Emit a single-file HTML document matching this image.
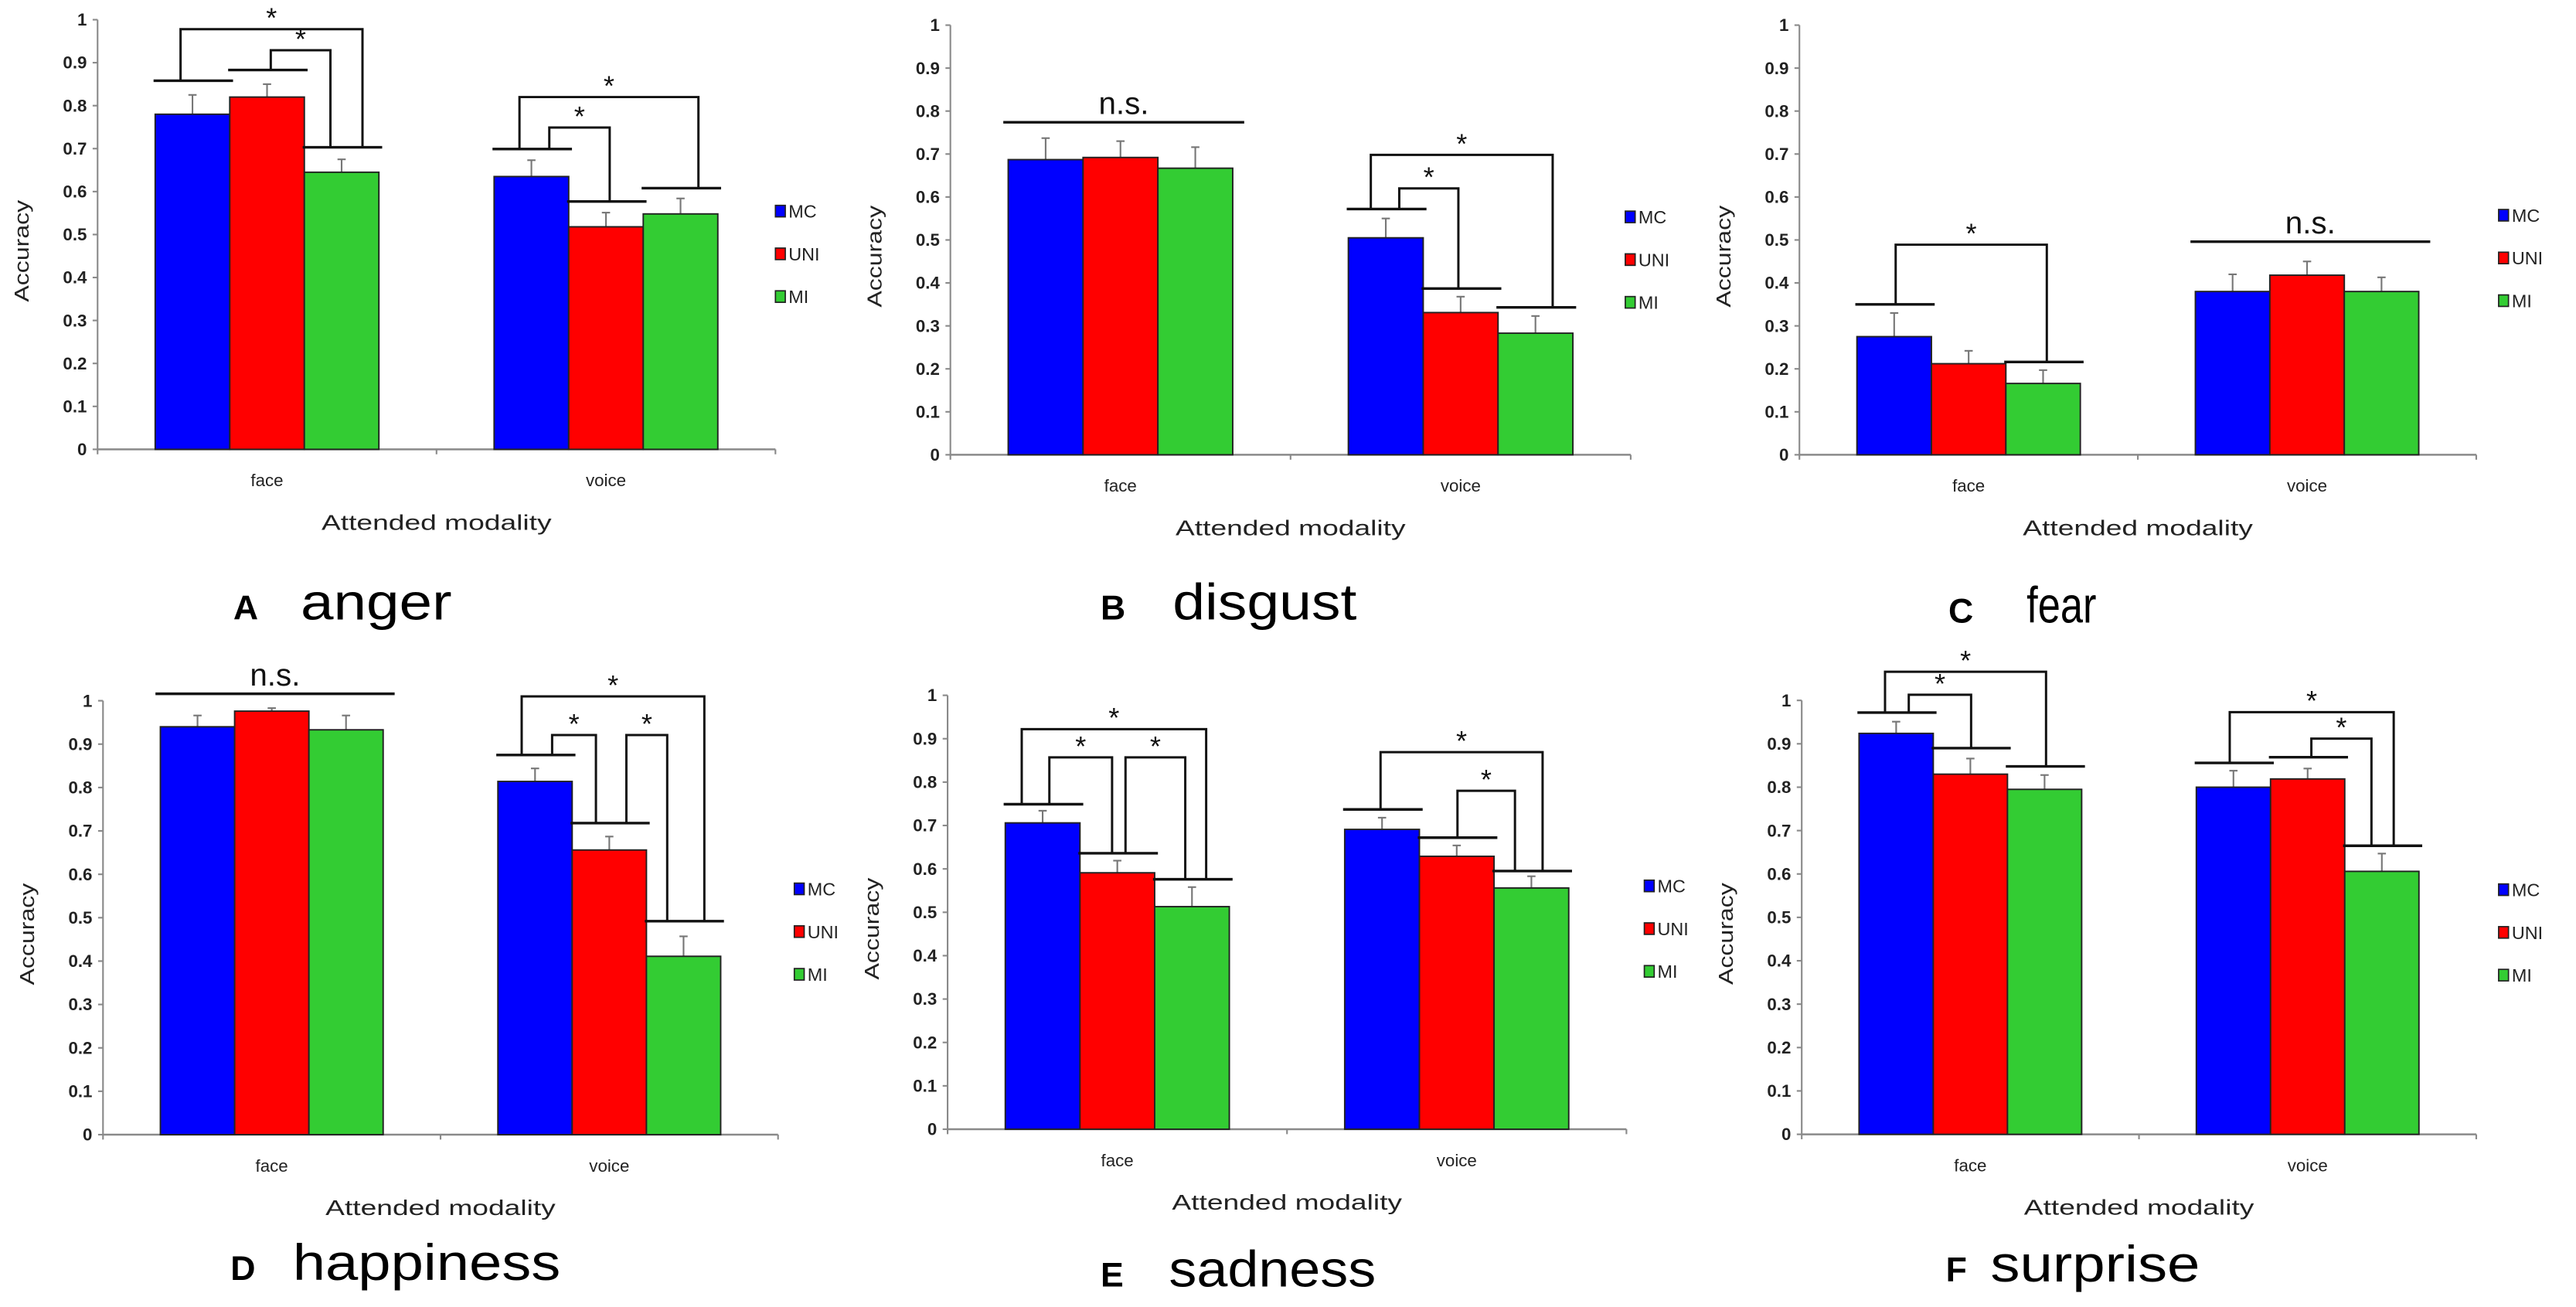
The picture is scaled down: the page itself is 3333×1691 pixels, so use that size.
<!DOCTYPE html>
<html><head><meta charset="utf-8"><style>
html,body{margin:0;padding:0;background:#fff;}
svg{display:block;font-family:"Liberation Sans",sans-serif;}
</style></head><body>
<svg id="fig" width="3333" height="1691" viewBox="0 0 1568 795.5" preserveAspectRatio="none" xmlns="http://www.w3.org/2000/svg"></svg>
<script>
const categories = ["face","voice"];
const seriesNames = ["MC","UNI","MI"];
const seriesColors = ["#0000ff","#ff0000","#33cc33"];
const yTicks = [0,0.1,0.2,0.3,0.4,0.5,0.6,0.7,0.8,0.9,1];
const yTickLabels = ["0","0.1","0.2","0.3","0.4","0.5","0.6","0.7","0.8","0.9","1"];

// means ordered: face MC, UNI, MI, voice MC, UNI, MI
const angerMeans = [0.78,0.82,0.645,0.635,0.518,0.548];
const angerErr = [0.045,0.03,0.03,0.038,0.033,0.036];
const disgustMeans = [0.687,0.692,0.667,0.505,0.331,0.283];
const disgustErr = [0.05,0.038,0.049,0.045,0.037,0.04];
const fearMeans = [0.275,0.212,0.166,0.38,0.418,0.38];
const fearErr = [0.055,0.03,0.031,0.04,0.032,0.033];
const happinessMeans = [0.94,0.976,0.933,0.814,0.656,0.411];
const happinessErr = [0.026,0.007,0.033,0.03,0.031,0.046];
const sadnessMeans = [0.706,0.591,0.513,0.691,0.629,0.556];
const sadnessErr = [0.028,0.028,0.045,0.027,0.025,0.027];
const surpriseMeans = [0.924,0.83,0.795,0.8,0.819,0.606];
const surpriseErr = [0.027,0.036,0.033,0.038,0.024,0.041];

// significance caps (level above each bar, null = none)
const angerCaps = [0.858,0.883,0.703,0.699,0.577,0.608];
const disgustCaps = [null,null,null,0.572,0.387,0.343];
const fearCaps = [0.35,null,0.216,null,null,null];
const happinessCaps = [null,null,null,0.875,0.718,0.492];
const sadnessCaps = [0.749,0.636,0.576,0.737,0.672,0.595];
const surpriseCaps = [0.972,0.89,0.848,0.856,0.869,0.665];
// connectors: [barA, fracA, barB, fracB, topLevel]
const angerLinks = [[0,0.34,2,0.78,0.978],[1,0.55,2,0.35,0.929],[3,0.34,5,0.74,0.82],[3,0.74,4,0.55,0.749]];
const disgustLinks = [[3,0.30,5,0.73,0.698],[3,0.68,4,0.47,0.62]];
const fearLinks = [[0,0.52,2,0.55,0.489]];
const happinessLinks = [[3,0.32,5,0.78,1.01],[3,0.73,4,0.32,0.921],[4,0.73,5,0.28,0.921]];
const sadnessLinks = [[0,0.22,2,0.69,0.922],[0,0.59,1,0.43,0.857],[1,0.61,2,0.41,0.857],[3,0.48,5,0.65,0.869],[4,0.51,5,0.28,0.78]];
const surpriseLinks = [[0,0.35,2,0.52,1.066],[0,0.67,1,0.51,1.013],[3,0.45,5,0.66,0.973],[4,0.55,5,0.36,0.912]];
// n.s. lines: [firstBar, lastBar, level]
const disgustNS = [[0,2,0.774]];
const fearNS = [[3,5,0.496]];
const happinessNS = [[0,2,1.016]];

const panels = [
 {id:"a",letter:"A",word:"anger",wordW:92,means:angerMeans,err:angerErr,caps:angerCaps,links:angerLinks,ns:[],
  x0:59.4,x1:472,yTop:12,y0:273.5,legX:472,legY:128.5,lx:142,wx:183,base:377},
 {id:"b",letter:"B",word:"disgust",wordW:112,means:disgustMeans,err:disgustErr,caps:disgustCaps,links:disgustLinks,ns:disgustNS,
  x0:578.5,x1:992.6,yTop:15.3,y0:276.8,legX:989.3,legY:132,lx:669.9,wx:713.8,base:377},
 {id:"c",letter:"C",word:"fear",wordW:42.5,means:fearMeans,err:fearErr,caps:fearCaps,links:fearLinks,ns:fearNS,
  x0:1095.3,x1:1507.3,yTop:15.3,y0:276.8,legX:1520.9,legY:131,lx:1186,wx:1233.6,base:379},
 {id:"d",letter:"D",word:"happiness",wordW:163,means:happinessMeans,err:happinessErr,caps:happinessCaps,links:happinessLinks,ns:happinessNS,
  x0:62.7,x1:473.6,yTop:426.5,y0:690.6,legX:483.5,legY:541,lx:140.3,wx:178.2,base:779},
 {id:"e",letter:"E",word:"sadness",wordW:126,means:sadnessMeans,err:sadnessErr,caps:sadnessCaps,links:sadnessLinks,ns:[],
  x0:576.8,x1:990,yTop:423.2,y0:687.3,legX:1000.9,legY:539.2,lx:669.9,wx:711.5,base:783},
 {id:"f",letter:"F",word:"surprise",wordW:127.5,means:surpriseMeans,err:surpriseErr,caps:surpriseCaps,links:surpriseLinks,ns:[],
  x0:1096.7,x1:1507.3,yTop:426.3,y0:690.4,legX:1520.9,legY:541.5,lx:1184.4,wx:1211.6,base:780}
];

const NS = "http://www.w3.org/2000/svg";
const svg = document.getElementById("fig");
function mk(tag, attrs, parent){
  const e = document.createElementNS(NS, tag);
  for (const k in attrs) e.setAttribute(k, attrs[k]);
  parent.appendChild(e);
  return e;
}

panels.forEach(p => {
  const g = mk("g", {}, svg);
  
  
  const yS = v => p.y0 - v * (p.y0 - p.yTop);
  const catW = (p.x1 - p.x0) / categories.length;
  const barW = catW * 0.66 / 3;
  const barX = i => p.x0 + Math.floor(i/3) * catW + catW * 0.17 + (i % 3) * barW;

  // y axis
  const yAx = mk("line", {x1:p.x0,y1:p.yTop,x2:p.x0,y2:p.y0,stroke:"#8a8a8a","stroke-width":1}, g);
  
  
  yTicks.forEach((t, k) => {
    const y = yS(t);
    mk("line", {x1:p.x0-3,y1:y,x2:p.x0,y2:y,stroke:"#8a8a8a","stroke-width":1}, g);
    const tl = mk("text", {x:p.x0-6.5,y:y+3.6,"text-anchor":"end","font-size":10.5,fill:"#222","font-weight":"bold"}, g);
    tl.textContent = yTickLabels[k];
    
    
  });
  // x axis
  const xAx = mk("line", {x1:p.x0,y1:p.y0,x2:p.x1,y2:p.y0,stroke:"#8a8a8a","stroke-width":1.2}, g);
  
  
  for (let c = 0; c <= categories.length; c++) {
    const x = p.x0 + c * catW;
    mk("line", {x1:x,y1:p.y0,x2:x,y2:p.y0+3,stroke:"#8a8a8a","stroke-width":1}, g);
  }
  categories.forEach((c, ci) => {
    const t = mk("text", {x:p.x0 + (ci+0.5)*catW, y:p.y0+22.5, "text-anchor":"middle","font-size":10.5,fill:"#222"}, g);
    t.textContent = c;
    
    
  });
  const xt = mk("text", {x:(p.x0+p.x1)/2, y:p.y0+49, "text-anchor":"middle","font-size":13,fill:"#222",textLength:140,lengthAdjust:"spacingAndGlyphs"}, g);
  xt.textContent = "Attended modality";
  
  
  const ymid = (p.y0 + p.yTop) / 2 + 10;
  const yt = mk("text", {x:0,y:0,"text-anchor":"middle","font-size":12,fill:"#222",textLength:62,lengthAdjust:"spacingAndGlyphs",transform:"translate("+(p.x0-42)+","+ymid+") rotate(-90)"}, g);
  yt.textContent = "Accuracy";
  
  

  // bars
  p.means.forEach((v, i) => {
    const x = barX(i), y = yS(v);
    const eTop = yS(v + p.err[i]);
    const el = mk("line", {x1:x+barW/2,y1:y,x2:x+barW/2,y2:eTop,stroke:"#777","stroke-width":1}, g);
    
    
    mk("line", {x1:x+barW/2-2.5,y1:eTop,x2:x+barW/2+2.5,y2:eTop,stroke:"#777","stroke-width":1}, g);
    const r = mk("rect", {x:x,y:y,width:barW,height:p.y0-y,fill:seriesColors[i%3],stroke:"#222","stroke-width":0.9}, g);
    
    
  });

  // significance caps
  p.caps.forEach((lv, i) => {
    if (lv === null) return;
    const x = barX(i), y = yS(lv);
    const c = mk("line", {x1:x-1,y1:y,x2:x+barW+2,y2:y,stroke:"#111","stroke-width":1.6}, g);
    
    
  });
  p.links.forEach(l => {
    const xa = barX(l[0]) + l[1]*barW, xb = barX(l[2]) + l[3]*barW;
    const ya = yS(p.caps[l[0]]), yb = yS(p.caps[l[2]]), yt2 = yS(l[4]);
    const pl = mk("polyline", {points:xa+","+ya+" "+xa+","+yt2+" "+xb+","+yt2+" "+xb+","+yb,fill:"none",stroke:"#111","stroke-width":1.4}, g);
    
    
    const st = mk("text", {x:(xa+xb)/2,y:yt2-1,"text-anchor":"middle","font-size":17,fill:"#111"}, g);
    st.textContent = "*";
    
    
  });
  p.ns.forEach(n => {
    const xa = barX(n[0]) - 3, xb = barX(n[1]) + barW + 7, y = yS(n[2]);
    const ln = mk("line", {x1:xa,y1:y,x2:xb,y2:y,stroke:"#111","stroke-width":1.6}, g);
    
    
    const t = mk("text", {x:(xa+xb)/2,y:y-5,"text-anchor":"middle","font-size":19,fill:"#111"}, g);
    t.textContent = "n.s.";
    
    
  });

  // legend
  seriesNames.forEach((s, k) => {
    const y = p.legY + k * 26;
    const lg = mk("g", {}, g);
    
    
    mk("rect", {x:p.legX,y:y-3.5,width:6,height:7,fill:seriesColors[k],stroke:"#222","stroke-width":0.8}, lg);
    const t = mk("text", {x:p.legX+8,y:y+4,"font-size":11,fill:"#222"}, lg);
    t.textContent = s;
  });

  // panel label
  const L = mk("text", {x:p.lx,y:p.base,"font-size":21,"font-weight":"bold",fill:"#000"}, g);
  L.textContent = p.letter;
  
  
  const W = mk("text", {x:p.wx,y:p.base,"font-size":31,fill:"#000",textLength:p.wordW,lengthAdjust:"spacingAndGlyphs"}, g);
  W.textContent = p.word;
  
  
});
</script>
</body></html>
